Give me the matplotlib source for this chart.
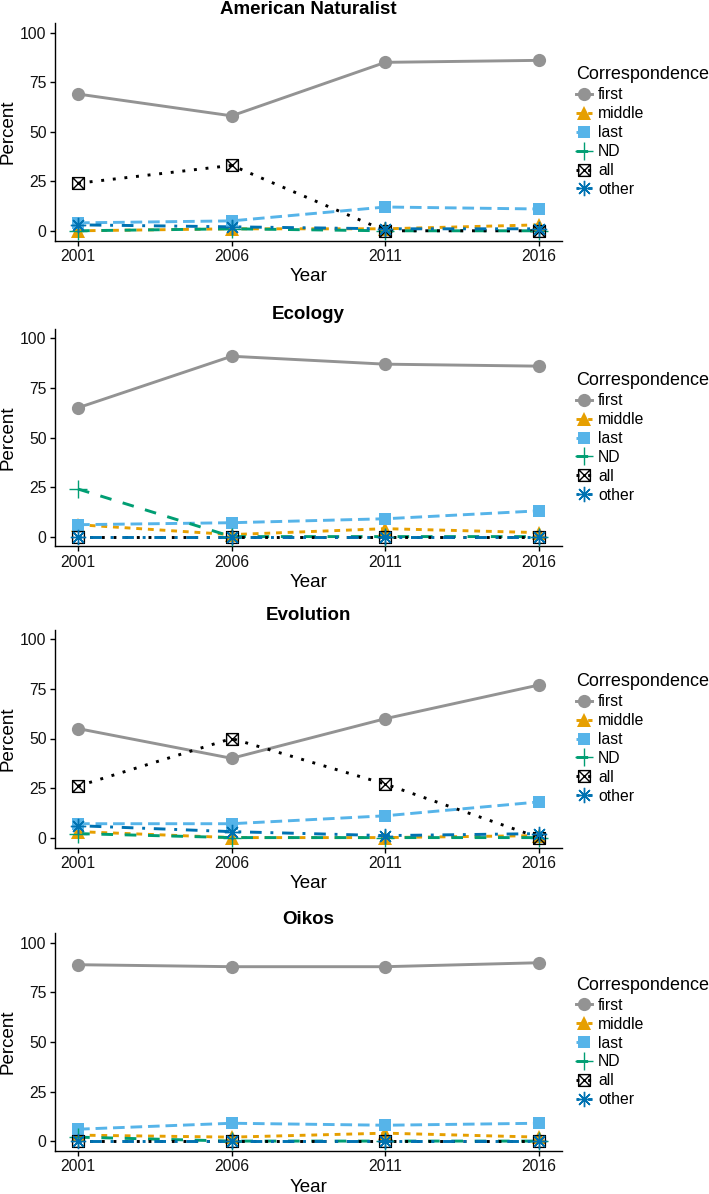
import matplotlib
matplotlib.use("Agg")
import matplotlib.pyplot as plt
from matplotlib.lines import Line2D
from matplotlib.path import Path

plt.rcParams['font.family'] = ['Liberation Sans', 'DejaVu Sans']

years = [2001, 2006, 2011, 2016]
roles = ["first", "middle", "last", "ND", "all", "other"]
journals = ["American Naturalist", "Ecology", "Evolution", "Oikos"]

# percent of papers by corresponding author position
amnat = {
    "first": [69, 58, 85, 86],
    "middle": [0, 1, 1, 3],
    "last": [4, 5, 12, 11],
    "ND": [0, 1, 0, 0],
    "all": [24, 33, 0, 0],
    "other": [3, 2, 1, 1],
}
ecology = {
    "first": [65, 91, 87, 86],
    "middle": [6, 1, 4, 2],
    "last": [6, 7, 9, 13],
    "ND": [24, 0, 0, 0],
    "all": [0, 0, 0, 0],
    "other": [0, 0, 0, 0],
}
evolution = {
    "first": [55, 40, 60, 77],
    "middle": [3, 0, 0, 1],
    "last": [7, 7, 11, 18],
    "ND": [2, 0, 0, 0],
    "all": [26, 50, 27, 0],
    "other": [6, 3, 1, 2],
}
oikos = {
    "first": [89, 88, 88, 90],
    "middle": [3, 2, 4, 2],
    "last": [6, 9, 8, 9],
    "ND": [2, 0, 0, 0],
    "all": [0, 0, 0, 0],
    "other": [0, 0, 0, 0],
}
panels = [amnat, ecology, evolution, oikos]

# square with a cross, like ggplot shape 7
box_x = Path(
    [(-1, -1), (1, -1), (1, 1), (-1, 1), (-1, -1), (-1, -1), (1, 1), (-1, 1), (1, -1)],
    [Path.MOVETO, Path.LINETO, Path.LINETO, Path.LINETO, Path.LINETO,
     Path.MOVETO, Path.LINETO, Path.MOVETO, Path.LINETO])

colors = {"first": "#939393", "middle": "#E69F00", "last": "#56B4E9",
          "ND": "#009E73", "all": "#000000", "other": "#0072B2"}
styles = {"first": "-", "middle": (0, (2, 2)), "last": (0, (4, 2)),
          "ND": (0, (4, 4)), "all": (0, (1, 3)), "other": (0, (1, 3, 4, 3))}
markers = {"first": "o", "middle": "^", "last": "s", "ND": "+",
           "all": box_x, "other": (8, 2, 0)}
msizes = {"first": 9.5, "middle": 10, "last": 9, "ND": 13, "all": 8.5, "other": 11}
filled = {"first": True, "middle": True, "last": True, "ND": False,
          "all": False, "other": False}

W, H = 709, 1194
fig = plt.figure(figsize=(W / 100, H / 100), dpi=100)

left, right = 55, 562
tops = [22.7, 328.5, 629.5, 933]
ph = 218


def marker_kw(r):
    kw = dict(marker=markers[r], markersize=msizes[r])
    if filled[r]:
        kw.update(markerfacecolor=colors[r], markeredgecolor=colors[r],
                  markeredgewidth=0)
    else:
        kw.update(markerfacecolor="none", markeredgecolor=colors[r],
                  markeredgewidth=1.0)
    return kw


for title, data, top in zip(journals, panels, tops):
    ax = fig.add_axes([left / W, 1 - (top + ph) / H, (right - left) / W, ph / H])

    for r in roles:
        ax.plot(years, data[r], color=colors[r], lw=2.1, linestyle=styles[r],
                zorder=2, clip_on=False)
    for r in roles:
        ax.plot(years, data[r], linestyle="none", zorder=3, clip_on=False,
                **marker_kw(r))

    ax.set_xlim(2000.25, 2016.75)
    ax.set_ylim(-5, 105)
    ax.set_xticks(years)
    ax.set_yticks([0, 25, 50, 75, 100])
    ax.spines["top"].set_visible(False)
    ax.spines["right"].set_visible(False)
    for s in ["left", "bottom"]:
        ax.spines[s].set_linewidth(1.0)
    ax.tick_params(length=3.5, width=1.0, pad=2.5, labelsize=11.3,
                   labelcolor="#111111")
    ax.set_xlabel("Year", fontsize=13.5, labelpad=3)
    ax.set_ylabel("Percent", fontsize=13.5, labelpad=3)
    ax.set_title(title, fontsize=13.5, fontweight="bold", pad=6.5)

    handles = [Line2D([], [], color=colors[r], lw=2.1, linestyle=styles[r],
                      **marker_kw(r)) for r in roles]
    ax.legend(handles, roles, title="Correspondence", loc="center left",
              bbox_to_anchor=((576 - left) / (right - left), 0.5),
              frameon=False, borderpad=0, borderaxespad=0, fontsize=11.3,
              title_fontsize=13, alignment="left", handlelength=1.05,
              handletextpad=0.35, labelspacing=0.25)

fig.savefig("out.png", dpi=100)
